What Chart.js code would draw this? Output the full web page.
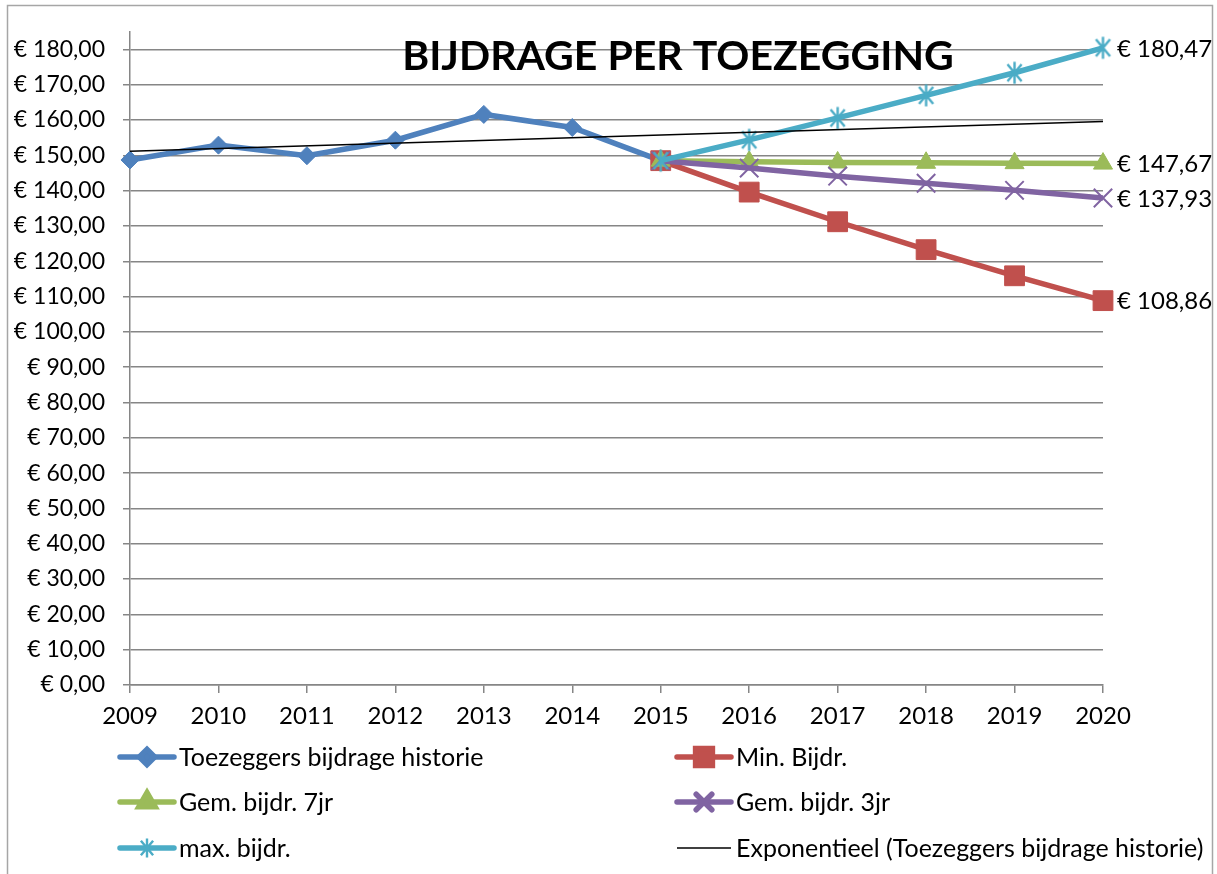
<!DOCTYPE html>
<html>
<head>
<meta charset="utf-8">
<script src="https://cdn.jsdelivr.net/npm/chart.js"></script>
<style>
  body { margin: 0; background: #ffffff; }
  #wrap { width: 1217px; height: 874px; position: relative; }
</style>
</head>
<body>
<div id="wrap"><canvas id="graph_canvas" width="1217" height="874"></canvas></div>
<script>
years = ['2009', '2010', '2011', '2012', '2013', '2014', '2015', '2016', '2017', '2018', '2019', '2020'];
historie = [148.7, 152.9, 149.9, 154.3, 161.6, 157.9, 148.5, null, null, null, null, null];
minBijdr = [null, null, null, null, null, null, 148.5, 139.6, 131.2, 123.3, 115.9, 108.86];
gem7jr = [null, null, null, null, null, null, 148.5, 148.2, 148.0, 147.9, 147.8, 147.67];
gem3jr = [null, null, null, null, null, null, 148.5, 146.4, 144.1, 142.1, 140.1, 137.93];
maxBijdr = [null, null, null, null, null, null, 148.5, 154.4, 160.6, 167.0, 173.4, 180.47];
// trendline only needs its two ends, drawn straight with spanGaps
trend = [151.2, null, null, null, null, null, null, null, null, null, null, 159.6];
yTicks = [0, 10, 20, 30, 40, 50, 60, 70, 80, 90, 100, 110, 120, 130, 140, 150, 160, 170, 180];

titleText = 'BIJDRAGE PER TOEZEGGING';
fontName = 'Lato';

function euro(v) {
    return '€ ' + v.toFixed(2).replace('.', ',');
}

// excel style asterisk: vertical bar plus an X
function asterisk(color, size) {
    const c = document.createElement('canvas');
    c.width = size;
    c.height = size;
    const g = c.getContext('2d');
    const h = size / 2;
    const r = h - 1.5;
    const a = 40 * Math.PI / 180;
    g.strokeStyle = color;
    g.lineWidth = 2.4;
    g.beginPath();
    g.moveTo(h, h - r);
    g.lineTo(h, h + r);
    g.moveTo(h - Math.sin(a) * r, h - Math.cos(a) * r);
    g.lineTo(h + Math.sin(a) * r, h + Math.cos(a) * r);
    g.moveTo(h + Math.sin(a) * r, h - Math.cos(a) * r);
    g.lineTo(h - Math.sin(a) * r, h + Math.cos(a) * r);
    g.stroke();
    return c;
}

function series(label, data, color, style, radius, pbw, order) {
    return {
        label: label,
        data: data,
        borderColor: color,
        backgroundColor: color,
        pointBackgroundColor: color,
        pointBorderColor: color,
        borderWidth: 5.5,
        pointStyle: style,
        pointRadius: radius,
        pointBorderWidth: pbw,
        tension: 0,
        order: order
    };
}

starChart = asterisk('#4BACC6', 25);
starLegend = asterisk('#4BACC6', 22);

datasets = [
    series('Toezeggers bijdrage historie', historie, '#4F81BD', 'rectRot', 9, 1, 6),
    series('Min. Bijdr.', minBijdr, '#C0504D', 'rect', 14, 1, 5),
    series('Gem. bijdr. 7jr', gem7jr, '#9BBB59', 'triangle', 11, 1, 4),
    series('Gem. bijdr. 3jr', gem3jr, '#8064A2', 'crossRot', 13, 2, 3),
    series('max. bijdr.', maxBijdr, '#4BACC6', starChart, 12, 2, 2),
    {
        label: 'Exponentieel (Toezeggers bijdrage historie)',
        data: trend,
        borderColor: '#000000',
        borderWidth: 1.5,
        pointRadius: 0,
        spanGaps: true,
        order: 1
    }
];

// legend: two columns, three rows
legendCols = [120, 677];
legendRows = [757, 802, 848];

const framePlugin = {
    id: 'frame',
    beforeDraw(chart) {
        const ctx = chart.ctx;
        ctx.save();
        ctx.strokeStyle = '#a6a6a6';
        ctx.lineWidth = 1.5;
        ctx.strokeRect(7.5, 5.5, 1205, 900);
        ctx.restore();
    }
};

const extrasPlugin = {
    id: 'extras',
    afterDraw(chart) {
        const ctx = chart.ctx;
        ctx.save();
        // title over the plot
        ctx.font = 'bold 41px ' + fontName;
        ctx.fillStyle = '#000000';
        ctx.textAlign = 'center';
        ctx.textBaseline = 'middle';
        ctx.fillText(titleText, 678, 57);

        // value labels at the last points
        ctx.font = '24px ' + fontName;
        ctx.textAlign = 'left';
        [1, 2, 3, 4].forEach(function(i) {
            const meta = chart.getDatasetMeta(i);
            const pt = meta.data[years.length - 1];
            const v = chart.data.datasets[i].data[years.length - 1];
            ctx.fillText(euro(v), pt.x + 14, pt.y + 1);
        });

        // legend
        ctx.font = '25px ' + fontName;
        const ds = chart.data.datasets;
        ds.forEach(function(d, k) {
            const x = legendCols[k % 2];
            const y = legendRows[Math.floor(k / 2)];
            ctx.strokeStyle = d.borderColor;
            ctx.fillStyle = d.borderColor;
            ctx.lineWidth = d.borderWidth;
            ctx.lineCap = k == 5 ? 'butt' : 'round';
            ctx.beginPath();
            ctx.moveTo(x, y);
            ctx.lineTo(x + 54, y);
            ctx.stroke();
            if (k == 4) {
                ctx.drawImage(starLegend, x + 27 - 11, y - 11);
            } else if (k != 5) {
                Chart.helpers.drawPoint(ctx, {
                    pointStyle: d.pointStyle,
                    radius: d.pointRadius * 0.85,
                    rotation: 0,
                    borderWidth: d.pointBorderWidth
                }, x + 27, y);
            }
            ctx.fillStyle = '#000000';
            ctx.fillText(d.label, x + 59, y + 1);
        });
        ctx.restore();
    }
};

const canvas = document.getElementById('graph_canvas');
const ctx = canvas.getContext('2d');
Chart.defaults.font.family = fontName;
Chart.defaults.color = '#000000';

chart = new Chart(ctx, {
    type: 'line',
    data: {
        labels: years,
        datasets: datasets
    },
    options: {
        responsive: false,
        maintainAspectRatio: false,
        animation: false,
        layout: {
            padding: { left: 8, top: 31, right: 114, bottom: 0 }
        },
        scales: {
            x: {
                offset: false,
                grid: {
                    drawOnChartArea: false,
                    drawTicks: true,
                    tickLength: 8,
                    color: '#868686',
                    lineWidth: 1.5
                },
                border: { color: '#868686', width: 1.5 },
                ticks: {
                    font: { size: 24 },
                    padding: 9,
                    maxRotation: 0,
                    autoSkip: false
                },
                afterFit: function(scale) { scale.height = 189; }
            },
            y: {
                min: 0,
                max: 185,
                grid: {
                    color: '#868686',
                    lineWidth: 1.5,
                    tickLength: 7
                },
                border: { color: '#868686', width: 1.5 },
                ticks: {
                    stepSize: 10,
                    includeBounds: false,
                    font: { size: 23 },
                    padding: 18,
                    callback: function(value) { return euro(value); }
                },
                afterBuildTicks: function(scale) {
                    scale.ticks = yTicks.map(function(v) { return { value: v }; });
                },
                afterFit: function(scale) { scale.width = 122; }
            }
        },
        plugins: {
            legend: { display: false },
            tooltip: { enabled: false },
            title: { display: false }
        }
    },
    plugins: [framePlugin, extrasPlugin]
});
</script>
</body>
</html>
